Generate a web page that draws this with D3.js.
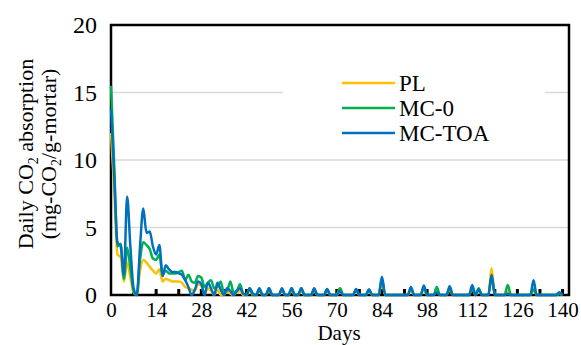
<!DOCTYPE html>
<html>
<head>
<meta charset="utf-8">
<script src="https://cdn.jsdelivr.net/npm/d3@7"></script>
<style>
  html, body { margin: 0; padding: 0; background: #fff; }
  svg text { font-family: "Liberation Serif", "Times New Roman", serif !important; fill: #000; }
</style>
</head>
<body>
<div id="chart"></div>
<script>
// sample days (daily at first, then only around the spikes)
const days = [
  0, 1, 2, 3, 4, 5, 6, 7, 8, 9, 10, 11, 12, 13, 14, 15, 16, 17, 18, 19, 20,
  21, 22, 23, 24, 25, 26, 27, 28, 29, 30, 31, 32, 33, 34, 35, 36, 37, 38, 39, 40,
  41, 42, 43, 44, 45, 46, 47, 48, 49, 50,
  52, 53, 54, 55, 56, 57, 58, 59, 60, 62, 63, 64, 66, 67, 68, 70, 71, 72,
  75, 76, 77, 79, 80, 81, 83, 84, 85, 92, 93, 94, 96, 97, 98, 100, 101, 102,
  104, 105, 106, 111, 112, 113, 114, 115, 117, 118, 119, 122, 123, 124,
  130, 131, 132, 138, 139, 140
]
const PL = [
  12.0, 7.8, 3.0, 2.8, 1.0, 2.4, 1.3, 0.2, 0, 1.8, 2.6, 2.4, 2.1, 1.8, 1.6, 1.9, 1.0, 1.2, 1.1, 1.0, 1.0,
  1.0, 0.9, 0.6, 0.5, 0.4, 0.3, 0.8, 0.7, 0.1, 0.5, 0.3, 0, 0.4, 0, 0, 0.3, 0.1, 0, 0.2, 0.3,
  0, 0, 0.3, 0, 0, 0.3, 0, 0, 0.3, 0,
  0, 0.3, 0, 0, 0.3, 0, 0, 0.3, 0, 0, 0.3, 0, 0, 0.3, 0, 0, 0.5, 0,
  0, 0.3, 0, 0, 0.3, 0, 0, 1.1, 0, 0, 0.4, 0, 0, 0.5, 0, 0, 0.3, 0,
  0, 0.4, 0, 0, 0.5, 0, 0.4, 0, 0, 2.0, 0, 0, 0.3, 0,
  0, 0.5, 0, 0, 0.1, 0
]
const MC0 = [
  15.5, 9.6, 3.6, 3.8, 1.2, 3.5, 2.0, 0.3, 0, 2.6, 3.9, 3.7, 3.4, 2.7, 2.6, 3.0, 1.5, 1.8, 1.6, 1.6, 1.6,
  1.7, 1.8, 1.1, 1.5, 1.0, 0.9, 1.4, 1.3, 0.6, 0.9, 1.1, 0.5, 0.6, 1.0, 0.2, 0.3, 1.0, 0.2, 0.3, 0.8,
  0.1, 0, 0.5, 0, 0, 0.4, 0, 0, 0.5, 0,
  0, 0.4, 0, 0, 0.5, 0, 0, 0.5, 0, 0, 0.4, 0, 0, 0.4, 0, 0, 0.5, 0,
  0, 0.4, 0, 0, 0.4, 0, 0, 1.2, 0, 0, 0.5, 0, 0, 0.6, 0, 0, 0.6, 0,
  0, 0.5, 0, 0, 0.6, 0, 0.5, 0, 0, 1.4, 0, 0, 0.75, 0,
  0, 0.4, 0, 0, 0.1, 0
]
const MCTOA = [
  13.8, 8.8, 3.9, 3.6, 1.5, 7.3, 3.6, 0.5, 0, 3.6, 6.4, 4.6, 4.7, 3.6, 3.0, 3.7, 1.4, 2.2, 1.9, 1.7, 1.7,
  1.6, 1.5, 1.1, 0.6, 0, 0.4, 1.0, 0.8, 0, 0.9, 0.5, 0, 0.9, 0.4, 0, 0.5, 0.3, 0, 0.3, 0.5,
  0.1, 0, 0.5, 0.1, 0, 0.5, 0, 0, 0.5, 0,
  0, 0.5, 0, 0, 0.5, 0, 0, 0.5, 0, 0, 0.5, 0, 0, 0.45, 0, 0, 0.3, 0,
  0, 0.45, 0, 0, 0.4, 0, 0, 1.35, 0, 0, 0.6, 0, 0, 0.7, 0, 0, 0.2, 0,
  0, 0.65, 0, 0, 0.75, 0, 0.4, 0, 0, 1.5, 0, 0, 0.1, 0,
  0, 1.1, 0, 0, 0.2, 0
]
const seriesNames = ["PL", "MC-0", "MC-TOA"]
const seriesColors = ["#FFC000", "#00B050", "#0070C0"]
const xTicks = [0, 14, 28, 42, 56, 70, 84, 98, 112, 126, 140]
const xMinorTicks = [7, 14, 21, 28, 35, 42, 49, 56, 63, 70, 77, 84, 91, 98, 105, 112, 119, 126, 133, 140]
const yTicks = [0, 5, 10, 15, 20]

const dimensions = {
  width: 581,
  height: 345,
  margin: { top: 25, bottom: 50, left: 111, right: 12 }
}
dimensions.ctrWidth = dimensions.width - dimensions.margin.left - dimensions.margin.right
dimensions.ctrHeight = dimensions.height - dimensions.margin.top - dimensions.margin.bottom

const svg = d3.select('#chart')
  .append('svg')
  .attr('width', dimensions.width)
  .attr('height', dimensions.height)

const ctr = svg.append('g')
  .attr('transform', `translate(${dimensions.margin.left}, ${dimensions.margin.top})`)

const xScale = d3.scaleLinear()
  .domain([0, 142])
  .range([0, dimensions.ctrWidth])
const yScale = d3.scaleLinear()
  .domain([0, 20])
  .range([dimensions.ctrHeight, 0])

// gridlines
ctr.append('g')
  .selectAll('line')
  .data(yTicks.filter(d => d > 0 && d < 20))
  .join('line')
  .attr('x1', 0)
  .attr('x2', dimensions.ctrWidth)
  .attr('y1', d => yScale(d))
  .attr('y2', d => yScale(d))
  .attr('stroke', '#d9d9d9')
  .attr('stroke-width', 1.5)

// legend background hides the gridline behind it
ctr.append('rect')
  .attr('x', 172)
  .attr('y', 40)
  .attr('width', 262)
  .attr('height', 90)
  .attr('fill', '#fff')

// plot frame
ctr.append('rect')
  .attr('x', 0)
  .attr('y', 0)
  .attr('width', dimensions.ctrWidth)
  .attr('height', dimensions.ctrHeight)
  .attr('fill', 'none')
  .attr('stroke', '#000')
  .attr('stroke-width', 2.5)

// inner tick marks every 7 days
ctr.append('g')
  .selectAll('line')
  .data(xMinorTicks)
  .join('line')
  .attr('x1', d => xScale(d))
  .attr('x2', d => xScale(d))
  .attr('y1', dimensions.ctrHeight)
  .attr('y2', dimensions.ctrHeight - 6)
  .attr('stroke', '#000')
  .attr('stroke-width', 3)

// axis labels
const yAxis = d3.axisLeft(yScale).tickValues(yTicks).tickSize(0).tickPadding(14)
ctr.append('g')
  .call(yAxis)
  .call(g => g.select('.domain').remove())
  .call(g => g.selectAll('text').attr('font-size', 24))

const xAxis = d3.axisBottom(xScale).tickValues(xTicks).tickSize(0).tickPadding(7)
ctr.append('g')
  .attr('transform', `translate(0, ${dimensions.ctrHeight})`)
  .call(xAxis)
  .call(g => g.select('.domain').remove())
  .call(g => g.selectAll('text').attr('font-size', 21))

// lines
const allSeries = [PL, MC0, MCTOA]
const line = d3.line()
  .x((d, i) => xScale(days[i]))
  .y(d => yScale(d))
  .curve(d3.curveMonotoneX)

ctr.append('g')
  .selectAll('path')
  .data(allSeries)
  .join('path')
  .attr('d', d => line(d))
  .attr('fill', 'none')
  .attr('stroke', (d, i) => seriesColors[i])
  .attr('stroke-width', 2.5)
  .attr('stroke-linejoin', 'round')

// legend
const legend = ctr.append('g')
  .attr('transform', 'translate(231, 58)')
seriesNames.forEach((name, i) => {
  const row = legend.append('g').attr('transform', `translate(0, ${i * 25})`)
  row.append('line')
    .attr('x1', 0).attr('x2', 53)
    .attr('stroke', seriesColors[i])
    .attr('stroke-width', 2.5)
  row.append('text')
    .attr('x', 57)
    .attr('dy', '0.35em')
    .attr('font-size', 23)
    .text(name)
})

// axis titles
svg.append('text')
  .attr('x', 339)
  .attr('y', 340)
  .attr('text-anchor', 'middle')
  .attr('font-size', 21)
  .text('Days')

const yTitle = svg.append('g')
  .attr('transform', 'translate(0, 154) rotate(-90)')
  .attr('font-size', 22)
  .attr('text-anchor', 'middle')

const t1 = yTitle.append('text').attr('x', 0).attr('y', 33)
t1.append('tspan').text('Daily CO')
t1.append('tspan').attr('font-size', 14).attr('dy', 5).text('2')
t1.append('tspan').attr('dy', -5).text(' absorption')

const t2 = yTitle.append('text').attr('x', 0).attr('y', 56)
t2.append('tspan').text('(mg-CO')
t2.append('tspan').attr('font-size', 14).attr('dy', 5).text('2')
t2.append('tspan').attr('dy', -5).text('/g-mortar)')
</script>
</body>
</html>
